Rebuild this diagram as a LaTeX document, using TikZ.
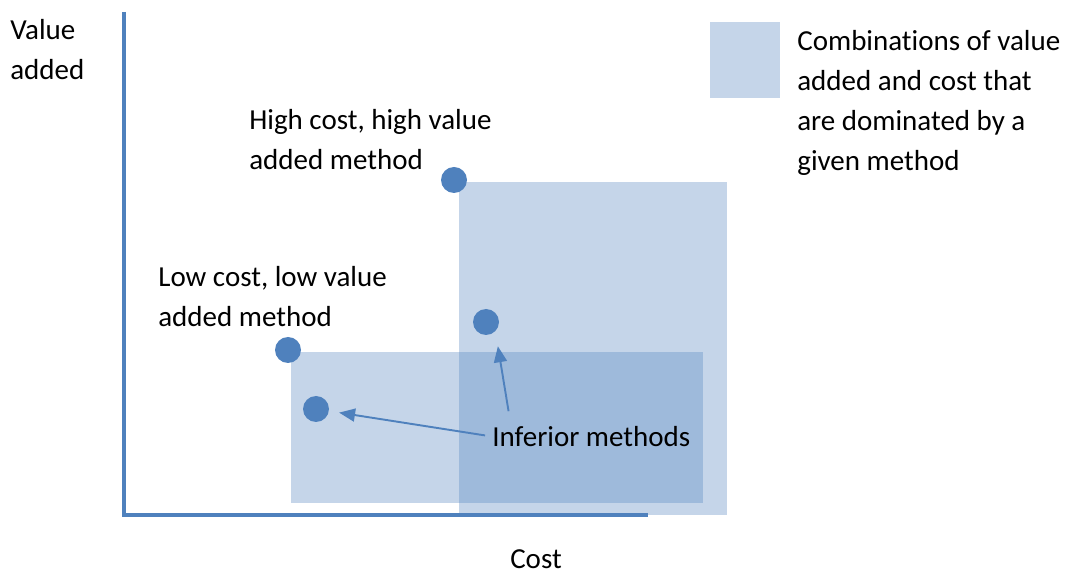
\documentclass[tikz,border=0pt]{standalone}
\usepackage{fontspec}
\setmainfont{Carlito}[Ligatures=NoCommon]
\usetikzlibrary{arrows.meta}
\definecolor{accent}{HTML}{4F81BD}
\tikzset{
  axis/.style={line width=2.6pt, accent, line join=miter},
  region/.style={fill=accent, fill opacity=0.33},
  method/.style={circle, fill=accent, minimum size=0.52cm, inner sep=0pt},
  txt/.style={font=\fontsize{16.5}{22.8}\selectfont, align=left, inner sep=0pt},
  pointer/.style={-{Triangle[length=0.32cm, width=0.26cm]}, line width=1.1pt, accent,
    shorten >=0.2cm},
}

\begin{document}
\begin{tikzpicture}[x=0.02cm, y=-0.02cm]
\useasboundingbox (0,0) rectangle (1065,573);

% dominated regions and legend key
\fill[region] (291,352) rectangle (703,503);
\fill[region] (459,182) rectangle (727,515);
\fill[region] (710,22) rectangle (780,98);

% axes
\draw[axis] (124,12) -- (124,515) -- (648,515);

% methods
\node[method] (high) at (454,180) {};
\node[method] (low) at (288,350) {};
\node[method] (infA) at (316,409) {};
\node[method] (infB) at (486,322) {};

% labels
\node[txt, anchor=north west] (ylab) at (10,19) {Value\\added};
\node[txt, anchor=north] (xlab) at (536,549) {Cost};
\node[txt, anchor=north west] (highlab) at (249,109) {High cost, high value\\added method};
\node[txt, anchor=north west] (lowlab) at (158,266) {Low cost, low value\\added method};
\node[txt, anchor=north west] (inferior) at (492,426) {Inferior methods};
\node[txt, anchor=north west] (legend) at (797,30) {Combinations of value\\added and cost that\\are dominated by a\\given method};

\draw[pointer, shorten <=0.14cm] (inferior.west) -- (infA);
\draw[pointer, shorten <=0.3cm, shorten >=0.3cm] ([xshift=0.38cm]inferior.north west) -- (infB.south east);
\end{tikzpicture}
\end{document}
